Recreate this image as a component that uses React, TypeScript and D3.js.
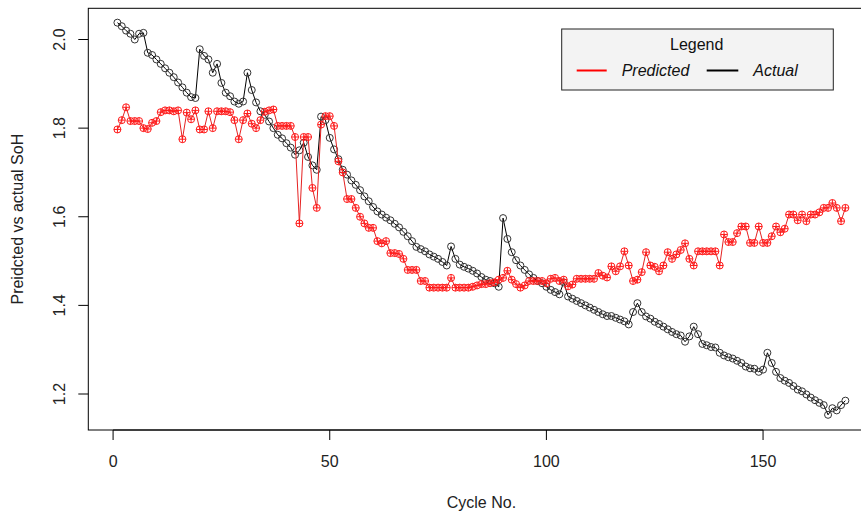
import React from "react";
import * as d3 from "d3";

const actual: number[] = [
  2.038, 2.030, 2.020, 2.013, 2.000, 2.013, 2.015, 1.970, 1.965, 1.955,
  1.945, 1.935, 1.925, 1.915, 1.903, 1.892, 1.880, 1.870, 1.868, 1.978,
  1.963, 1.955, 1.925, 1.945, 1.902, 1.880, 1.872, 1.860, 1.855, 1.860,
  1.925, 1.886, 1.858, 1.838, 1.830, 1.815, 1.800, 1.785, 1.777, 1.766,
  1.756, 1.740, 1.750, 1.767, 1.735, 1.716, 1.706, 1.826, 1.818, 1.778,
  1.752, 1.730, 1.706, 1.695, 1.682, 1.672, 1.660, 1.646, 1.635, 1.622,
  1.612, 1.605, 1.598, 1.592, 1.584, 1.576, 1.566, 1.556, 1.545, 1.532,
  1.527, 1.522, 1.515, 1.510, 1.505, 1.498, 1.490, 1.533, 1.505, 1.492,
  1.487, 1.483, 1.478, 1.472, 1.464, 1.458, 1.455, 1.450, 1.442, 1.597,
  1.550, 1.520, 1.502, 1.490, 1.480, 1.470, 1.462, 1.455, 1.450, 1.442,
  1.435, 1.430, 1.425, 1.452, 1.420, 1.415, 1.410, 1.405, 1.400, 1.395,
  1.390, 1.385, 1.380, 1.376, 1.376, 1.372, 1.368, 1.364, 1.357, 1.385,
  1.405, 1.385, 1.375, 1.370, 1.363, 1.358, 1.352, 1.346, 1.340, 1.335,
  1.332, 1.318, 1.330, 1.352, 1.335, 1.313, 1.310, 1.306, 1.305, 1.293,
  1.287, 1.283, 1.280, 1.275, 1.270, 1.262, 1.258, 1.257, 1.250, 1.255,
  1.293, 1.270, 1.250, 1.236, 1.230, 1.225, 1.218, 1.210, 1.206, 1.199,
  1.192, 1.186, 1.180, 1.175, 1.153, 1.168, 1.163, 1.175, 1.185,
];

const predicted: number[] = [
  1.797, 1.818, 1.847, 1.816, 1.816, 1.816, 1.800, 1.798, 1.812, 1.816,
  1.836, 1.840, 1.840, 1.838, 1.840, 1.775, 1.835, 1.820, 1.840, 1.797,
  1.797, 1.838, 1.800, 1.838, 1.838, 1.838, 1.836, 1.818, 1.775, 1.818,
  1.833, 1.810, 1.800, 1.818, 1.837, 1.840, 1.842, 1.805, 1.805, 1.805,
  1.805, 1.780, 1.585, 1.780, 1.780, 1.665, 1.620, 1.808, 1.827, 1.827,
  1.805, 1.725, 1.700, 1.640, 1.640, 1.620, 1.600, 1.585, 1.575, 1.575,
  1.545, 1.540, 1.545, 1.518, 1.518, 1.516, 1.505, 1.480, 1.480, 1.480,
  1.455, 1.455, 1.440, 1.440, 1.440, 1.440, 1.440, 1.462, 1.440, 1.440,
  1.440, 1.440, 1.442, 1.445, 1.448, 1.448, 1.450, 1.452, 1.458, 1.462,
  1.478, 1.458, 1.448, 1.440, 1.445, 1.455, 1.455, 1.455, 1.455, 1.450,
  1.460, 1.462, 1.455, 1.458, 1.443, 1.447, 1.460, 1.460, 1.460, 1.460,
  1.460, 1.473, 1.467, 1.463, 1.488, 1.477, 1.488, 1.522, 1.490, 1.455,
  1.458, 1.475, 1.520, 1.490, 1.487, 1.477, 1.490, 1.520, 1.505, 1.515,
  1.525, 1.540, 1.505, 1.490, 1.522, 1.522, 1.522, 1.522, 1.522, 1.490,
  1.560, 1.543, 1.543, 1.563, 1.578, 1.578, 1.541, 1.541, 1.578, 1.541,
  1.541, 1.556, 1.578, 1.565, 1.573, 1.605, 1.605, 1.592, 1.605, 1.590,
  1.605, 1.605, 1.610, 1.620, 1.620, 1.631, 1.620, 1.590, 1.620,
];

const xTicks: number[] = [0, 50, 100, 150];
const yTicks: number[] = [1.2, 1.4, 1.6, 1.8, 2.0];
const legendLabels: string[] = ["Predicted", "Actual"];

const W = 861;
const H = 516;
const FONT = "'Liberation Sans', Arial, Helvetica, sans-serif";

export default function App() {
  const n = actual.length;
  const cycles = actual.map((_, i) => i + 1);
  const pad = 0.04 * (n - 1);
  const x = d3.scaleLinear().domain([1 - pad, n + pad]).range([88.3, 874.5]);
  const y = d3.scaleLinear().domain([1.2, 2.0]).range([394, 39.5]);
  const top = 8.3;
  const bottom = 430;
  const left = 88.3;
  const right = 874.5;

  const line = d3
    .line<number>()
    .x((_, i) => x(cycles[i]))
    .y((d) => y(d));

  const r = 3.5;

  return (
    <div style={{ position: "fixed", left: 0, top: 0 }}>
      <svg width={W} height={H} style={{ display: "block", background: "#fff" }} fontFamily={FONT}>
        {/* box */}
        <rect x={left} y={top} width={right - left} height={bottom - top} fill="none" stroke="#000" strokeWidth={1} />

        {/* x axis */}
        <line x1={x(xTicks[0])} x2={x(xTicks[xTicks.length - 1])} y1={bottom} y2={bottom} stroke="#000" />
        {xTicks.map((t) => (
          <g key={"xt" + t}>
            <line x1={x(t)} x2={x(t)} y1={bottom} y2={bottom + 10} stroke="#000" />
            <text x={x(t)} y={461} fontSize={16} textAnchor="middle" dominantBaseline="central" fill="#222">
              {t}
            </text>
          </g>
        ))}
        <text x={(left + right) / 2} y={502} fontSize={16} textAnchor="middle" dominantBaseline="central" fill="#222">
          Cycle No.
        </text>

        {/* y axis */}
        {yTicks.map((t) => (
          <g key={"yt" + t}>
            <line x1={left - 10} x2={left} y1={y(t)} y2={y(t)} stroke="#000" />
            <text
              x={59}
              y={y(t)}
              fontSize={16}
              textAnchor="middle"
              dominantBaseline="central"
              fill="#222"
              transform={`rotate(-90 59 ${y(t)})`}
            >
              {t.toFixed(1)}
            </text>
          </g>
        ))}
        <text
          x={18}
          y={(top + bottom) / 2}
          fontSize={16}
          textAnchor="middle"
          dominantBaseline="central"
          fill="#222"
          transform={`rotate(-90 18 ${(top + bottom) / 2})`}
        >
          Preidcted vs actual SoH
        </text>

        <defs>
          <clipPath id="plotclip">
            <rect x={left} y={top} width={right - left} height={bottom - top} />
          </clipPath>
        </defs>

        <g clipPath="url(#plotclip)">
          {/* actual */}
          <path d={line(actual) || ""} fill="none" stroke="#000" strokeWidth={1} />
          {actual.map((v, i) => (
            <circle key={"a" + i} cx={x(cycles[i])} cy={y(v)} r={r} fill="none" stroke="#333" strokeWidth={1} />
          ))}
          {/* predicted */}
          <path d={line(predicted) || ""} fill="none" stroke="#e52222" strokeWidth={1} />
          {predicted.map((v, i) => {
            const cx = x(cycles[i]);
            const cy = y(v);
            return (
              <g key={"p" + i} stroke="#ff1a1a" strokeWidth={1} fill="none">
                <circle cx={cx} cy={cy} r={r} />
                <line x1={cx - r} x2={cx + r} y1={cy} y2={cy} />
                <line x1={cx} x2={cx} y1={cy - r} y2={cy + r} />
              </g>
            );
          })}
        </g>

        {/* legend */}
        <rect x={561.7} y={29} width={271.6} height={61} fill="#f3f3f3" stroke="#222" strokeWidth={1} />
        <text x={696.7} y={44} fontSize={16} textAnchor="middle" dominantBaseline="central" fill="#111">
          Legend
        </text>
        <line x1={576.7} x2={606.7} y1={70.5} y2={70.5} stroke="#ff0000" strokeWidth={2} />
        <text x={621.7} y={70.5} fontSize={16} fontStyle="italic" dominantBaseline="central" fill="#111">
          {legendLabels[0]}
        </text>
        <line x1={706.7} x2={738.3} y1={70.5} y2={70.5} stroke="#000" strokeWidth={2} />
        <text x={753.3} y={70.5} fontSize={16} fontStyle="italic" dominantBaseline="central" fill="#111">
          {legendLabels[1]}
        </text>
      </svg>
    </div>
  );
}
